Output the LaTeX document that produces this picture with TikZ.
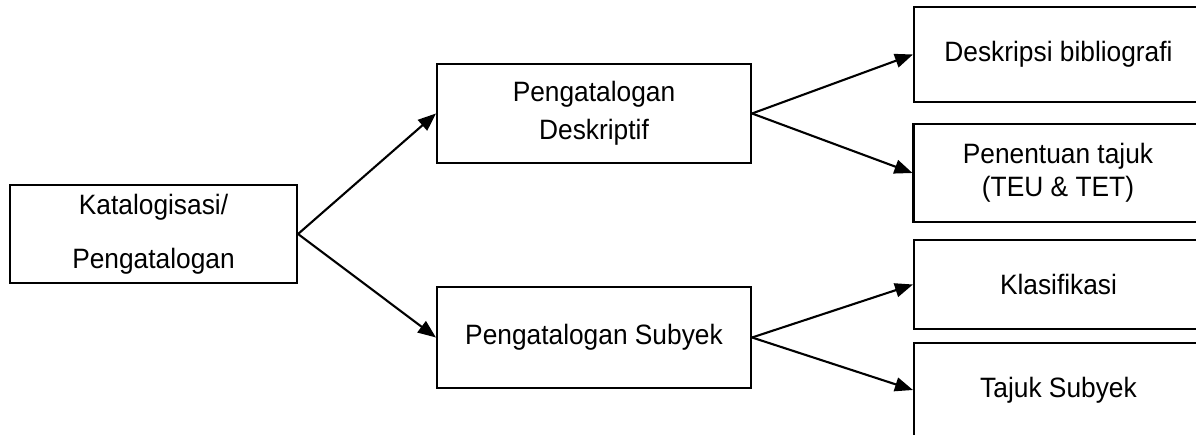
\documentclass[tikz,border=0pt]{standalone}
\usepackage{fontspec}
\setmainfont{Liberation Sans}[FakeStretch=0.94]
\usetikzlibrary{arrows.meta}
\begin{document}
\begin{tikzpicture}[x=1pt,y=1pt,
  box/.style={draw, line width=2.1pt, rectangle, align=center,
    font=\fontsize{28}{33}\selectfont, inner sep=0pt},
  rbox/.style={box, minimum width=289pt},
  conn/.style={line width=2.1pt, -{Triangle[length=18pt,width=14pt]}}]
\useasboundingbox (0,0) rectangle (1196,435);
\node[box, minimum width=287pt, minimum height=98pt] (kat) at (153.5,201) {Katalogisasi/\\[21pt]Pengatalogan};
\node[box, minimum width=314pt, minimum height=99pt] (desk) at (594,321.5) {Pengatalogan\\[5pt]Deskriptif};
\node[box, minimum width=314pt, minimum height=101pt] (subj) at (594,97.5) {Pengatalogan Subyek};
\node[rbox, minimum height=95pt] (bib) at (1058.5,380.5) {Deskripsi bibliografi};
\node[rbox, minimum height=98pt] (tajuk) at (1058,262) {Penentuan tajuk\\(TEU \& TET)};
\node[rbox, minimum height=89pt] (klas) at (1058.5,150.5) {Klasifikasi};
\node[rbox, minimum height=94pt] (ts) at (1058.5,45) {Tajuk Subyek};
\draw[conn] (kat.east) -- (desk.west);
\draw[conn] (kat.east) -- (subj.west);
\draw[conn] (desk.east) -- (bib.west);
\draw[conn] (desk.east) -- (tajuk.west);
\draw[conn] (subj.east) -- (klas.west);
\draw[conn] (subj.east) -- (ts.west);
\end{tikzpicture}
\end{document}
